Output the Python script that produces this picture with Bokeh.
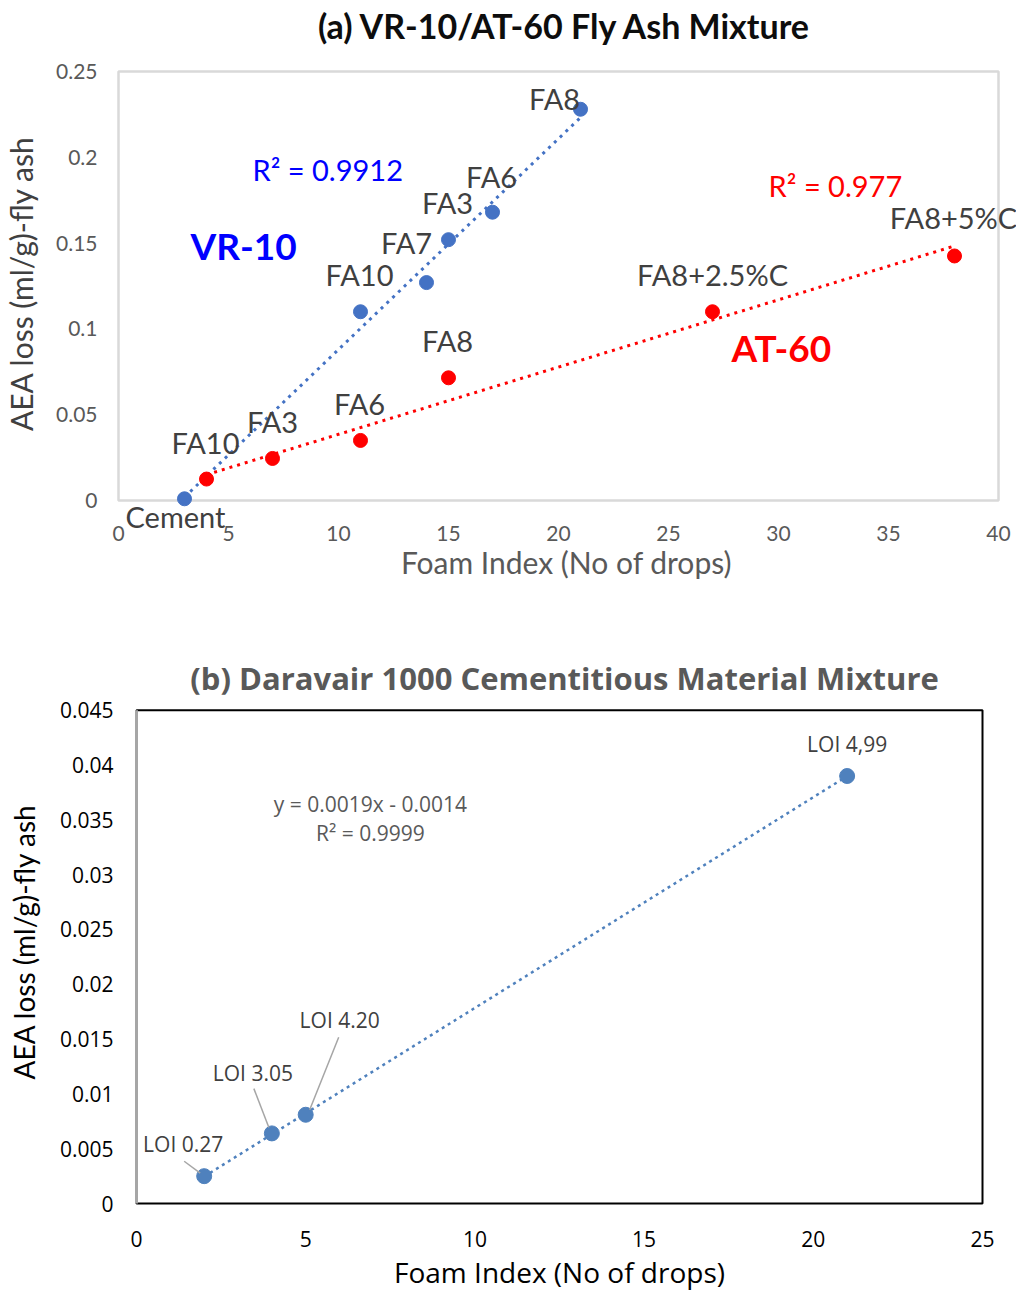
from bokeh.plotting import figure
from bokeh.models import Range1d, FixedTicker, Label
from bokeh.layouts import column, row
from bokeh.embed import file_html
from bokeh.resources import INLINE
import numpy as np

# ---------------- data: chart (a) ----------------
vr_labels = ["Cement", "FA10", "FA7", "FA3", "FA6", "FA8"]
vr_foam = [3, 11, 14, 15, 17, 21]
vr_aea = [0.001, 0.11, 0.127, 0.152, 0.168, 0.228]

at_labels = ["FA10", "FA3", "FA6", "FA8", "FA8+2.5%C", "FA8+5%C"]
at_foam = [4, 7, 11, 15, 27, 38]
at_aea = [0.0125, 0.0245, 0.035, 0.0715, 0.11, 0.1425]

a_x_ticks = [0, 5, 10, 15, 20, 25, 30, 35, 40]
a_x_tick_labels = ["0", "5", "10", "15", "20", "25", "30", "35", "40"]
a_y_ticks = [0, 0.05, 0.1, 0.15, 0.2, 0.25]
a_y_tick_labels = ["0", "0.05", "0.1", "0.15", "0.2", "0.25"]

# ---------------- data: chart (b) ----------------
loi_labels = ["LOI 0.27", "LOI 3.05", "LOI 4.20", "LOI 4,99"]
b_foam = [2, 4, 5, 21]
b_aea = [0.0025, 0.0064, 0.0081, 0.039]

b_x_ticks = [0, 5, 10, 15, 20, 25]
b_x_tick_labels = ["0", "5", "10", "15", "20", "25"]
b_y_ticks = [0, 0.005, 0.01, 0.015, 0.02, 0.025, 0.03, 0.035, 0.04, 0.045]
b_y_tick_labels = ["0", "0.005", "0.01", "0.015", "0.02", "0.025", "0.03", "0.035", "0.04", "0.045"]

# ---------------- layout / style (not data) ----------------
FONT_A = "Lato"
FONT_B = "Open Sans"
# label offsets in screen pixels (dx right, dy down)
vr_label_off = [(-9, 18), (-1, -37), (-20, -40), (-1, -37), (-1, -36), (-26, -11)]
at_label_off = [(-1, -37), (0, -37), (-1, -37), (-1, -37), (0, -37), (-1, -38)]
b_label_off = [(-21, -32), (-19, -60), (34, -95), (0, -32)]
b_leader_off = [((-20, -15), (-4, -3)), ((-18, -45), (-3, -6)), ((33, -78), (4, -5)), None]


def frame_ranges(x0, x1, y0, y1, box_w, box_h, ext_l, ext_r, ext_t, ext_b):
    """Data ranges of a drawing frame that is larger than the visible axes box
    by the given pixel margins (so that labels next to the box are not clipped)."""
    ux = (x1 - x0) / box_w
    uy = (y1 - y0) / box_h
    return (Range1d(x0 - ext_l * ux, x1 + ext_r * ux),
            Range1d(y0 - ext_b * uy, y1 + ext_t * uy), ux, uy)


def style_axes(p, tick_font, tick_size, tick_color, x_ticks, x_labels, y_ticks, y_labels):
    p.xaxis.ticker = FixedTicker(ticks=x_ticks)
    p.yaxis.ticker = FixedTicker(ticks=y_ticks)
    p.xaxis.major_label_overrides = {t: l for t, l in zip(x_ticks, x_labels)}
    p.yaxis.major_label_overrides = {t: l for t, l in zip(y_ticks, y_labels)}
    for ax in (p.xaxis, p.yaxis):
        ax.axis_line_color = None
        ax.major_tick_line_color = None
        ax.minor_tick_line_color = None
        ax.major_tick_out = 0
        ax.major_tick_in = 0
        ax.minor_tick_out = 0
        ax.minor_tick_in = 0
        ax.major_label_text_font = tick_font
        ax.major_label_text_font_size = tick_size
        ax.major_label_text_color = tick_color
        ax.axis_label_text_font_style = "normal"
    p.grid.visible = False
    p.outline_line_color = None


def add_point_labels(p, xs, ys, texts, offs, font, size, color):
    for xv, yv, t, (dx, dy) in zip(xs, ys, texts, offs):
        p.add_layout(Label(x=xv, y=yv, text=t, x_offset=dx, y_offset=-dy,
                           text_align="center", text_baseline="middle",
                           text_font=font, text_font_size=size, text_color=color))


# ================= chart (a) =================
# axes box: x 118..998, y 71..500 (px); drawing frame: x 116..1016, y 0..558
xr1, yr1, ux1, uy1 = frame_ranges(0, 40, 0, 0.25, 880, 429, 2, 18, 71, 58)
p1 = figure(width=1016, height=620, x_range=xr1, y_range=yr1,
            output_backend="svg", toolbar_location=None,
            min_border_left=116, min_border_right=0, min_border_top=0, min_border_bottom=62)
style_axes(p1, FONT_A, "21px", "#595959", a_x_ticks, a_x_tick_labels, a_y_ticks, a_y_tick_labels)
p1.xaxis.major_label_standoff = -33
p1.yaxis.major_label_standoff = 19
p1.xaxis.axis_label = "Foam Index (No of drops)"
p1.yaxis.axis_label = "AEA loss  (ml/g)-fly ash"
p1.xaxis.axis_label_text_font = FONT_A
p1.yaxis.axis_label_text_font = FONT_A
p1.xaxis.axis_label_text_font_size = "30px"
p1.yaxis.axis_label_text_font_size = "30px"
p1.xaxis.axis_label_text_color = "#595959"
p1.yaxis.axis_label_text_color = "#404040"
p1.xaxis.axis_label_standoff = 0
p1.yaxis.axis_label_standoff = 14

# visible axes box
p1.quad(left=[0], right=[40], bottom=[0], top=[0.25], fill_color=None,
        line_color="#d9d9d9", line_width=2.5)

# chart title (inside the enlarged frame, above the axes box)
p1.add_layout(Label(x=20.3, y=0.25 + 46 * uy1, text="(a) VR-10/AT-60 Fly Ash Mixture",
                    text_align="center", text_baseline="middle", text_font=FONT_A,
                    text_font_size="34px", text_font_style="bold", text_color="#0d0d0d"))

# trendlines (least squares fits of the data)
for xs, ys, col in ((vr_foam, vr_aea, "#4472C4"), (at_foam, at_aea, "#FF0000")):
    k, b = np.polyfit(xs, ys, 1)
    xl = np.array([min(xs), max(xs)], dtype=float)
    p1.line(xl, k * xl + b, line_color=col, line_width=3, line_dash="3 5")

p1.scatter(vr_foam, vr_aea, size=14, color="#4472C4")
p1.scatter(at_foam, at_aea, size=14, color="#FF0000")

add_point_labels(p1, vr_foam, vr_aea, vr_labels, vr_label_off, FONT_A, "29px", "#404040")
add_point_labels(p1, at_foam, at_aea, at_labels, at_label_off, FONT_A, "29px", "#404040")

p1.add_layout(Label(x=6.09, y=0.193, text="R² = 0.9912", text_color="#0000FF",
                    text_font=FONT_A, text_font_size="29px", text_baseline="middle"))
p1.add_layout(Label(x=3.27, y=0.1486, text="VR-10", text_color="#0000FF", text_font_style="bold",
                    text_font=FONT_A, text_font_size="37px", text_baseline="middle"))
p1.add_layout(Label(x=29.55, y=0.1836, text="R² = 0.977", text_color="#FF0000",
                    text_font=FONT_A, text_font_size="29px", text_baseline="middle"))
p1.add_layout(Label(x=27.86, y=0.0892, text="AT-60", text_color="#FF0000", text_font_style="bold",
                    text_font=FONT_A, text_font_size="37px", text_baseline="middle"))

# ================= chart (b) =================
# axes box: x 136..982, y 90..586 (px in this figure); frame: x 134..984, y 40..598
xr2, yr2, ux2, uy2 = frame_ranges(0, 25, 0, 0.045, 846, 496, 2, 2, 50, 12)
p2 = figure(width=1016, height=673, x_range=xr2, y_range=yr2,
            output_backend="svg", toolbar_location=None,
            min_border_left=134, min_border_right=32, min_border_top=40, min_border_bottom=75)
style_axes(p2, FONT_B, "21px", "#000000", b_x_ticks, b_x_tick_labels, b_y_ticks, b_y_tick_labels)
p2.xaxis.major_label_standoff = 15
p2.yaxis.major_label_standoff = 21
p2.xaxis.axis_label = "Foam Index (No of drops)"
p2.yaxis.axis_label = "AEA loss  (ml/g)-fly ash"
p2.xaxis.axis_label_text_font = FONT_B
p2.xaxis.axis_label_text_font_size = "28px"
p2.yaxis.axis_label_text_font = FONT_A
p2.yaxis.axis_label_text_font_size = "28px"
p2.xaxis.axis_label_text_color = "#000000"
p2.yaxis.axis_label_text_color = "#000000"
p2.xaxis.axis_label_standoff = 3
p2.yaxis.axis_label_standoff = 16

# visible axes box: black border, grey left axis line
p2.quad(left=[0], right=[25], bottom=[0], top=[0.045], fill_color=None,
        line_color="#000000", line_width=2)
p2.segment(x0=[0], y0=[0], x1=[0], y1=[0.045], line_color="#a6a6a6", line_width=3)

p2.add_layout(Label(x=12.65, y=0.045 + 32 * uy2,
                    text="(b) Daravair 1000 Cementitious Material Mixture",
                    text_align="center", text_baseline="middle", text_font=FONT_B,
                    text_font_size="31px", text_font_style="bold", text_color="#595959"))

k, b = np.polyfit(b_foam, b_aea, 1)
xl = np.array([min(b_foam), max(b_foam)], dtype=float)
p2.line(xl, k * xl + b, line_color="#4F81BD", line_width=2.5, line_dash="3 4")
p2.scatter(b_foam, b_aea, size=15, color="#4F81BD")

# leader lines: pixel offsets converted to data units
x0s, y0s, x1s, y1s = [], [], [], []
for xv, yv, lo in zip(b_foam, b_aea, b_leader_off):
    if lo is None:
        continue
    (sx0, sy0), (sx1, sy1) = lo
    x0s.append(xv + sx0 * ux2); y0s.append(yv - sy0 * uy2)
    x1s.append(xv + sx1 * ux2); y1s.append(yv - sy1 * uy2)
p2.segment(x0s, y0s, x1s, y1s, line_color="#a6a6a6", line_width=1.5)

add_point_labels(p2, b_foam, b_aea, loi_labels, b_label_off, FONT_B, "21px", "#404040")

p2.add_layout(Label(x=6.91, y=0.03647, text="y = 0.0019x - 0.0014", text_color="#595959",
                    text_font=FONT_B, text_font_size="21px", text_align="center", text_baseline="middle"))
p2.add_layout(Label(x=6.91, y=0.03384, text="R² = 0.9999", text_color="#595959",
                    text_font=FONT_B, text_font_size="21px", text_align="center", text_baseline="middle"))

layout = column(row(p1), row(p2))
open("out.html", "w").write(file_html(layout, INLINE))
